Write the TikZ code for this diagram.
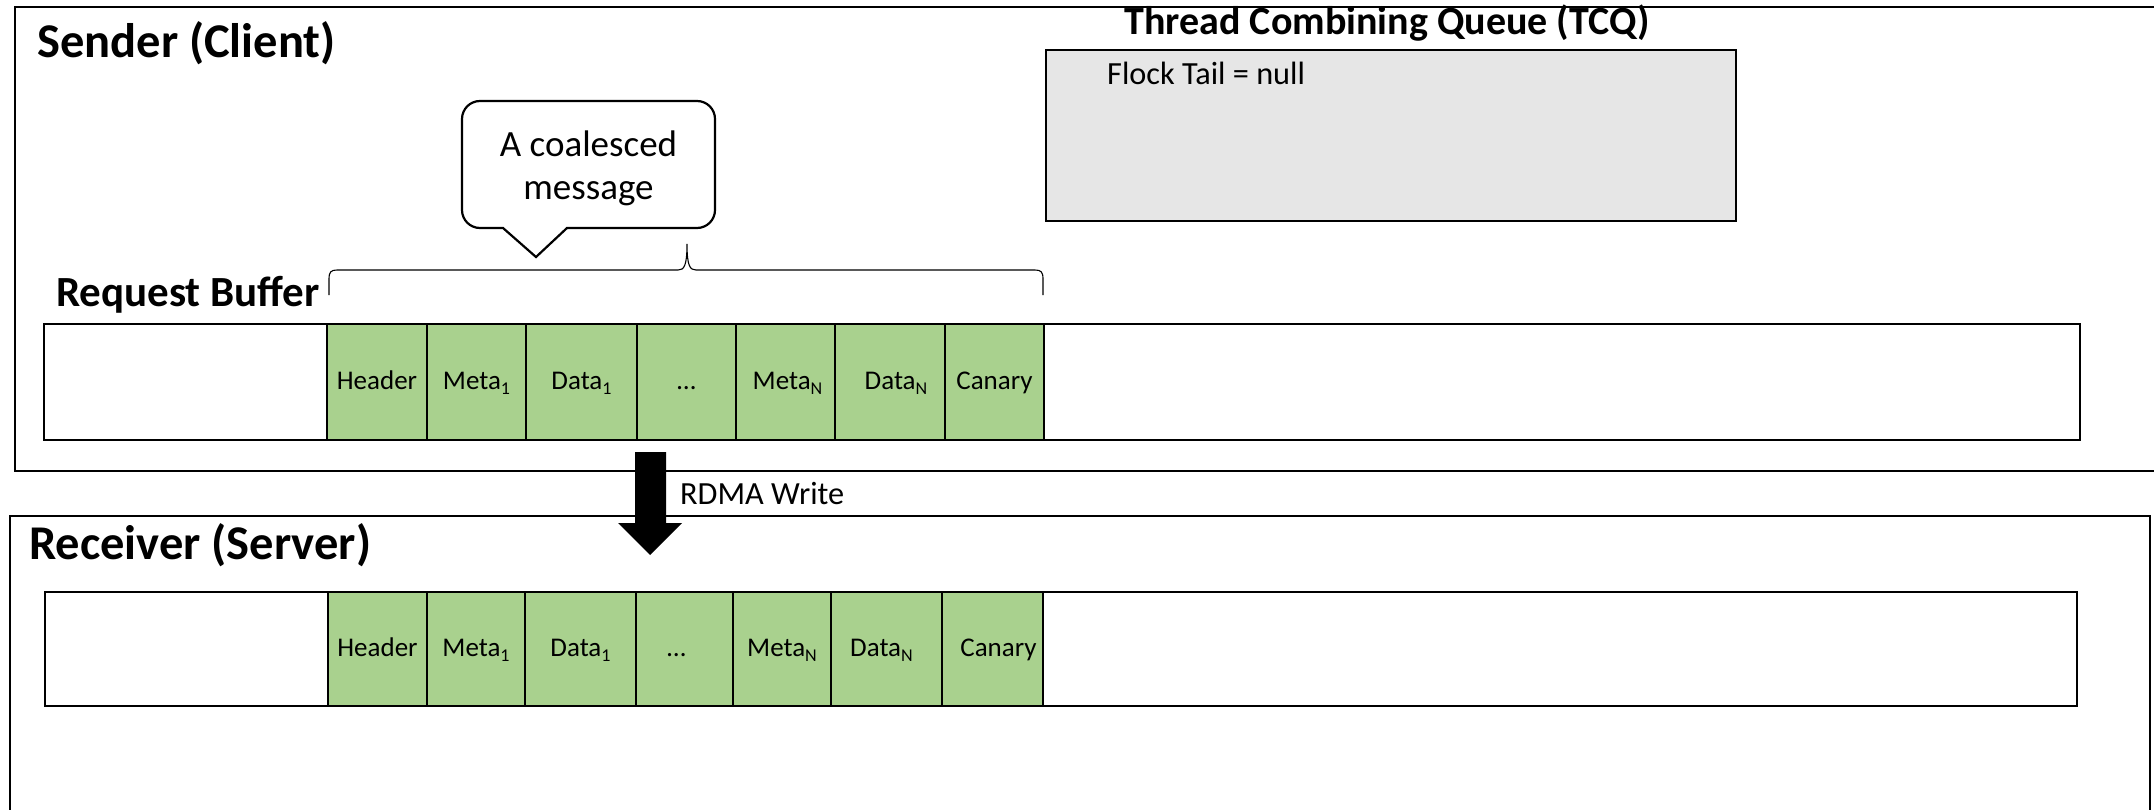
\documentclass[tikz,border=0pt]{standalone}
\usepackage{fontspec}
\setmainfont{Carlito}
\definecolor{cellgreen}{HTML}{A9D18E}
\definecolor{tcqgray}{HTML}{E6E6E6}
\newcommand\lowidx[1]{\raisebox{-5pt}{\fontsize{18}{18}\selectfont #1}}
\begin{document}
\begin{tikzpicture}[x=1pt,y=-1pt,
  frame/.style={draw=black, line width=2.5pt},
  bufbox/.style={draw=black, line width=2.5pt, fill=white, inner sep=0pt},
  cell/.style={draw=black, line width=2pt, fill=cellgreen, inner sep=0pt,
    minimum height=116pt, text height=19pt, text depth=5pt,
    font=\fontsize{27}{30}\selectfont},
  rcell/.style={cell, minimum height=114pt},
  title/.style={anchor=base west, inner sep=0pt, font=\bfseries\fontsize{48.5}{52}\selectfont},
  subtitle/.style={anchor=base west, inner sep=0pt, font=\bfseries\fontsize{43}{46}\selectfont},
  plain/.style={anchor=base west, inner sep=0pt, font=\fontsize{32.3}{36}\selectfont},
  tcqbox/.style={draw=black, line width=2.5pt, fill=tcqgray, inner sep=0pt},
  callout/.style={draw=black, line width=2.2pt, fill=white},
  brace/.style={draw=black, line width=1.1pt},
  blockarrow/.style={fill=black, draw=none}
]
\useasboundingbox (0,0) rectangle (2154,810);
\clip (0,0) rectangle (2154,810);

% sender and receiver frames
\draw[frame] (15,7) rectangle (2220,471);
\draw[frame] (10,516) rectangle (2150,880);

\node[title] (sender) at (37,58) {Sender (Client)};
\node[title] (receiver) at (29,559) {Receiver (Server)};

% thread combining queue
\node[anchor=base, inner sep=0pt, font=\bfseries\fontsize{40}{44}\selectfont] (tcqtitle) at (1387,35) {Thread Combining Queue (TCQ)};
\node[tcqbox, minimum width=690pt, minimum height=171pt] (tcq) at (1391,135.5) {};
\node[plain] (flock) at (1107,85) {Flock Tail = null};

% request buffer on the sender
\node[subtitle] (reqbuf) at (56,306) {Request Buffer};
\node[bufbox, minimum width=2036pt, minimum height=116pt] (sbuf) at (1062,382) {};
\node[cell, minimum width=100pt] (s1) at (377,382) {Header};
\node[cell, minimum width=99pt]  (s2) at (476.5,382) {Meta\lowidx{1}};
\node[cell, minimum width=111pt] (s3) at (581.5,382) {Data\lowidx{1}};
\node[cell, minimum width=99pt]  (s4) at (686.5,382) {\ldots};
\node[cell, minimum width=99pt]  (s5) at (785.5,382) {\hspace*{4pt}Meta\lowidx{N}};
\node[cell, minimum width=110pt] (s6) at (890,382) {\hspace*{12pt}Data\lowidx{N}};
\node[cell, minimum width=99pt]  (s7) at (994.5,382) {Canary};

% brace over the coalesced message
\draw[brace] (329,295) -- (329,279) .. controls (329,272) and (331,270) .. (337,270)
  -- (678,270) .. controls (684,270) and (687,266) .. (687,244)
  .. controls (687,266) and (690,270) .. (696,270)
  -- (1035,270) .. controls (1041,270) and (1043,272) .. (1043,279) -- (1043,295);

% speech bubble
\draw[callout] (536,257) -- (567,228) [rounded corners=18pt] -- (715,228) -- (715,101)
  -- (462,101) -- (462,228) [sharp corners] -- (503,228) -- cycle;
\node[align=center, inner sep=0pt, font=\fontsize{37}{43}\selectfont] (msg) at (588.5,168) {A coalesced\\message};

% RDMA write
\fill[blockarrow] (635,452) -- (666,452) -- (666,523) -- (682,523) -- (650,555)
  -- (618,523) -- (635,523) -- cycle;
\node[plain] (rdma) at (680,504) {RDMA Write};

% receive buffer on the server
\node[bufbox, minimum width=2032pt, minimum height=114pt] (rbuf) at (1061,649) {};
\node[rcell, minimum width=99pt]  (r1) at (377.5,649) {Header};
\node[rcell, minimum width=98pt]  (r2) at (476,649) {Meta\lowidx{1}};
\node[rcell, minimum width=111pt] (r3) at (580.5,649) {Data\lowidx{1}};
\node[rcell, minimum width=97pt]  (r4) at (684.5,649) {\ldots\hspace*{16pt}};
\node[rcell, minimum width=98pt]  (r5) at (782,649) {Meta\lowidx{N}};
\node[rcell, minimum width=111pt] (r6) at (886.5,649) {Data\lowidx{N}\hspace*{10pt}};
\node[rcell, minimum width=101pt] (r7) at (992.5,649) {\hspace*{12pt}Canary};
\end{tikzpicture}
\end{document}
